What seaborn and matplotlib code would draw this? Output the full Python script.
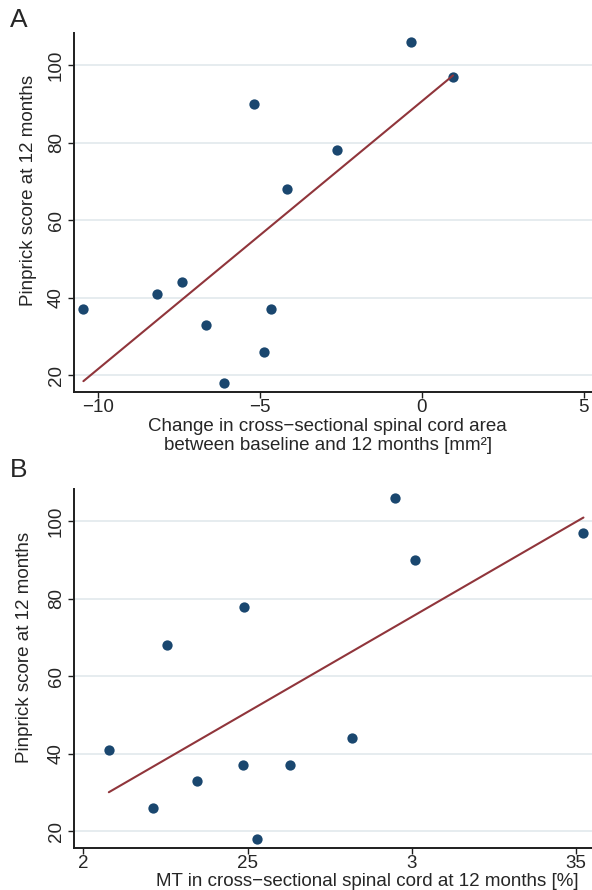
import numpy as np
import pandas as pd
import matplotlib
matplotlib.use('Agg')
import matplotlib.pyplot as plt
import seaborn as sns

# Панель A: зміна площі перерізу спинного мозку
area_change = [-10.45, -8.19, -7.40, -6.68, -6.11, -5.19, -4.88, -4.67, -4.17, -2.62, -0.35, 0.96]
pinprick_a = [37, 41, 44, 33, 18, 90, 26, 37, 68, 78, 106, 97]

# Панель B: MT у перерізі спинного мозку
mt_values = [2.078, 2.213, 2.345, 2.486, 2.629, 2.530, 2.949, 3.010, 3.522, 2.819, 2.256, 2.489]
pinprick_b = [41, 26, 33, 37, 37, 18, 106, 90, 97, 44, 68, 78]

x_ticks_a = [-10, -5, 0, 5]
x_labels_a = ['\u221210', '\u22125', '0', '5']
x_ticks_b = [2, 2.5, 3, 3.5]
x_labels_b = ['2', '25', '3', '35']
y_ticks = [20, 40, 60, 80, 100]

df_a = pd.DataFrame({'x': area_change, 'y': pinprick_a})
df_b = pd.DataFrame({'x': mt_values, 'y': pinprick_b})

sns.set_style('white')
plt.rcParams['font.family'] = ['Liberation Sans', 'DejaVu Sans']

point_color = '#1a476f'
line_color = '#90353b'
grid_color = '#e4ebee'
fs = 13.5

fig = plt.figure(figsize=(5.92, 8.9), dpi=100)
ax_a = fig.add_axes([0.125, 0.5599, 0.875, 0.4031])
ax_b = fig.add_axes([0.125, 0.0472, 0.875, 0.4030])


def style_axis(ax, xticks, xlabels, xlim):
    ax.set_xlim(*xlim)
    ax.set_ylim(15.7, 108.3)
    ax.set_xticks(xticks)
    ax.set_xticklabels(xlabels)
    ax.set_yticks(y_ticks)
    ax.set_yticklabels([str(v) for v in y_ticks], rotation=90, va='center')
    ax.yaxis.grid(True, color=grid_color, lw=1.3)
    ax.xaxis.grid(False)
    ax.set_axisbelow(True)
    for side in ['top', 'right']:
        ax.spines[side].set_visible(False)
    for side in ['left', 'bottom']:
        ax.spines[side].set_color('#1e1e1e')
        ax.spines[side].set_linewidth(1.4)
    ax.tick_params(axis='both', which='major', labelsize=fs, length=4.5,
                   width=1.0, color='#1e1e1e', direction='out',
                   bottom=True, left=True)
    ax.tick_params(axis='x', pad=0.5)
    ax.tick_params(axis='y', pad=2)


sns.regplot(data=df_a, x='x', y='y', ax=ax_a, ci=None,
            scatter_kws={'s': 55, 'color': point_color, 'linewidths': 0, 'alpha': 1},
            line_kws={'color': line_color, 'lw': 1.5})
style_axis(ax_a, x_ticks_a, x_labels_a, (-10.74, 5.25))
ax_a.set_xlabel('Change in cross\u2212sectional spinal cord area\nbetween baseline and 12 months [mm\u00b2]',
                fontsize=fs, linespacing=1.15)
ax_a.xaxis.set_label_coords(0.49, -0.073, transform=ax_a.transAxes)
ax_a.xaxis.label.set_va('top')
ax_a.set_ylabel('Pinprick score at 12 months', fontsize=fs)
ax_a.yaxis.set_label_coords(-0.071, 0.56)

sns.regplot(data=df_b, x='x', y='y', ax=ax_b, ci=None,
            scatter_kws={'s': 55, 'color': point_color, 'linewidths': 0, 'alpha': 1},
            line_kws={'color': line_color, 'lw': 1.5})
style_axis(ax_b, x_ticks_b, x_labels_b, (1.972, 3.548))
ax_b.set_xlabel('MT in cross\u2212sectional spinal cord at 12 months [%]', fontsize=fs)
ax_b.xaxis.set_label_coords(0.567, -0.071, transform=ax_b.transAxes)
ax_b.xaxis.label.set_va('top')
ax_b.set_ylabel('Pinprick score at 12 months', fontsize=fs)
ax_b.yaxis.set_label_coords(-0.079, 0.56)

fig.text(0.016, 0.978, 'A', fontsize=19, ha='left', va='center')
fig.text(0.016, 0.472, 'B', fontsize=19, ha='left', va='center')

fig.savefig('out.png', dpi=100)
